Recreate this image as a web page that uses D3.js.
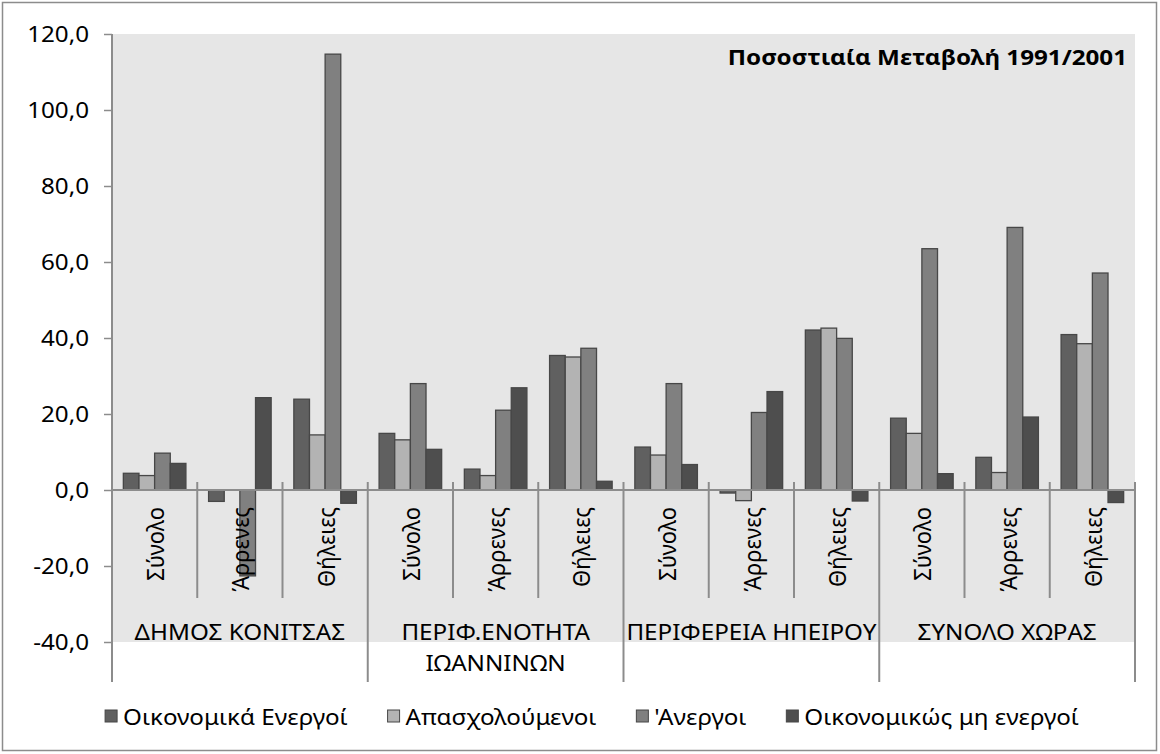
<!DOCTYPE html>
<html>
<head>
<meta charset="utf-8">
<script src="https://cdn.jsdelivr.net/npm/d3@7"></script>
<style>
  body { margin: 0; background: #fff; }
  text { font-family: "Noto Sans", "Open Sans", sans-serif; fill: #000; }
</style>
</head>
<body>
<svg id="chart" width="1160" height="754"></svg>
<script>
// data
let groupLabels = [["ΔΗΜΟΣ ΚΟΝΙΤΣΑΣ"], ["ΠΕΡΙΦ.ΕΝΟΤΗΤΑ", "ΙΩΑΝΝΙΝΩΝ"], ["ΠΕΡΙΦΕΡΕΙΑ ΗΠΕΙΡΟΥ"], ["ΣΥΝΟΛΟ ΧΩΡΑΣ"]]
let subLabels = ["Σύνολο", "Άρρενες", "Θήλειες"]
let seriesNames = ["Οικονομικά Ενεργοί", "Απασχολούμενοι", "'Ανεργοι", "Οικονομικώς μη ενεργοί"]
let yTicks = [-40, -20, 0, 20, 40, 60, 80, 100, 120]
let titleText = "Ποσοστιαία Μεταβολή 1991/2001"

// one value per (group, sub) in order
let econActive = [4.4, -3.0, 23.9, 14.9, 5.5, 35.4, 11.3, -0.8, 42.1, 18.9, 8.6, 40.9]
let employed   = [3.8, 0.0, 14.5, 13.2, 3.8, 35.0, 9.2, -2.8, 42.6, 14.9, 4.6, 38.5]
let unemployed = [9.7, -22.6, 114.7, 28.0, 21.0, 37.3, 28.0, 20.4, 39.9, 63.5, 69.1, 57.1]
let inactive   = [7.0, 24.3, -3.5, 10.7, 26.9, 2.3, 6.7, 25.9, -2.9, 4.3, 19.2, -3.3]

let seriesValues = [econActive, employed, unemployed, inactive]
let colors = ["#606060", "#b3b3b3", "#808080", "#4e4e4e"]

let svg = d3.select('#chart')
let pLeft = 112, pRight = 1135, pTop = 34, pBottom = 642
let fs = '22px'
let sx = 1.1 // text in the original is a bit wide

// outer frame
svg.append('rect')
  .attr('x', 2.5).attr('y', 2.5).attr('width', 1154).attr('height', 748)
  .attr('fill', '#fff').attr('stroke', '#8c8c8c').attr('stroke-width', 1.5)

svg.append('rect')
  .attr('x', pLeft).attr('y', pTop).attr('width', pRight - pLeft).attr('height', pBottom - pTop)
  .attr('fill', '#e6e6e6')

let y = d3.scaleLinear().domain([-40, 120]).range([pBottom, pTop])

let cats = []
groupLabels.forEach((g, gi) => subLabels.forEach((s, si) => cats.push({ g: gi, s: si, i: gi * 3 + si })))

let x = d3.scaleBand().domain(cats.map(c => c.i)).range([pLeft, pRight])
let bw = x.bandwidth()
let barW = bw / (4 + 1.45)
let xs = d3.scaleBand().domain(seriesNames).range([(bw - 4 * barW) / 2, (bw + 4 * barW) / 2])

// y axis
let yAxis = d3.axisLeft(y).tickValues(yTicks).tickSize(8).tickPadding(14)
  .tickFormat(d => d3.format('.1f')(d).replace('.', ',').replace('−', '-'))
let ga = svg.append('g').attr('transform', `translate(${pLeft},0)`).call(yAxis)
ga.select('.domain').remove()
ga.selectAll('line').attr('stroke', '#8c8c8c').attr('stroke-width', 1.5)
ga.selectAll('text')
  .style('font-size', fs).attr('fill', '#000')
  .attr('transform', `translate(-23,0) scale(${sx},1)`).attr('x', 0)

// bars
seriesValues.forEach((vals, k) => {
  svg.append('g').selectAll('rect')
    .data(cats)
    .enter()
    .append('rect')
    .attr('x', c => x(c.i) + xs(seriesNames[k]))
    .attr('width', xs.bandwidth())
    .attr('y', c => y(Math.max(0, vals[c.i])))
    .attr('height', c => Math.abs(y(vals[c.i]) - y(0)))
    .attr('fill', colors[k])
    .attr('stroke', '#474747')
    .attr('stroke-width', 1.3)
})

let y0 = y(0)
let lineCol = '#8c8c8c'

// zero line
svg.append('line')
  .attr('x1', pLeft).attr('x2', pRight).attr('y1', y0).attr('y2', y0)
  .attr('stroke', lineCol).attr('stroke-width', 2)

// axis line
svg.append('line')
  .attr('x1', pLeft).attr('x2', pLeft).attr('y1', pTop).attr('y2', 682)
  .attr('stroke', lineCol).attr('stroke-width', 2)

// category separators
cats.forEach(c => {
  let xr = x(c.i) + bw
  let isGroupEnd = c.s == subLabels.length - 1
  svg.append('line')
    .attr('x1', xr).attr('x2', xr)
    .attr('y1', y0 - 8).attr('y2', isGroupEnd ? 682 : 598)
    .attr('stroke', lineCol).attr('stroke-width', 2)
})

// sub labels (rotated)
svg.append('g').selectAll('text')
  .data(cats)
  .enter()
  .append('text')
  .attr('transform', c => `translate(${x(c.i) + bw / 2},507) scale(${sx},1) rotate(-90)`)
  .attr('text-anchor', 'end')
  .attr('dominant-baseline', 'central')
  .style('font-size', fs)
  .text(c => subLabels[c.s])

// group labels
groupLabels.forEach((lines, gi) => {
  let cx = (x(gi * 3) + x(gi * 3 + 2) + bw) / 2
  lines.forEach((ln, li) => {
    svg.append('text')
      .attr('transform', `translate(${cx},${640 + li * 31}) scale(${sx},1)`)
      .attr('text-anchor', 'middle')
      .style('font-size', fs)
      .text(ln)
  })
})

// title
svg.append('text')
  .attr('transform', `translate(1127,65) scale(${sx},1)`)
  .attr('text-anchor', 'end')
  .style('font-size', fs).style('font-weight', 'bold')
  .text(titleText)

// legend
let lg = svg.append('g')
let lx = 0
seriesNames.forEach((name, k) => {
  let item = lg.append('g').attr('transform', `translate(${lx},0)`)
  item.append('rect')
    .attr('x', 0).attr('y', -6).attr('width', 12).attr('height', 12)
    .attr('fill', colors[k]).attr('stroke', '#474747').attr('stroke-width', 1)
  let t = item.append('text')
    .attr('transform', `translate(18,0) scale(${sx},1)`)
    .attr('dominant-baseline', 'central')
    .style('font-size', fs)
    .text(name)
  lx += 18 + t.node().getComputedTextLength() * sx + 40
})
let legW = lx - 40
lg.attr('transform', `translate(${592 - legW / 2},716)`)
</script>
</body>
</html>
